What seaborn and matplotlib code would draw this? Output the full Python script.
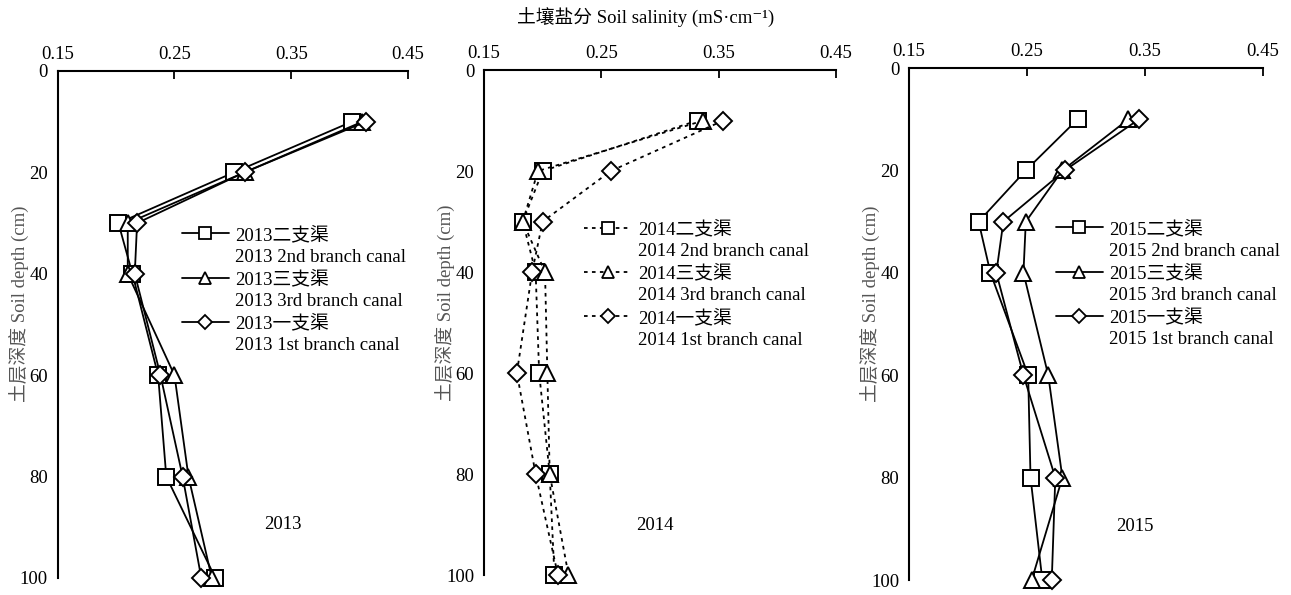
import numpy as np
import pandas as pd
import matplotlib
matplotlib.use("Agg")
import matplotlib.pyplot as plt
from matplotlib.lines import Line2D
import seaborn as sns

# Data
depth = [10, 20, 30, 40, 60, 80, 100]
years = ["2013", "2014", "2015"]
canals_cn = ["二支渠", "三支渠", "一支渠"]
canals_en = ["2nd branch canal", "3rd branch canal", "1st branch canal"]

sal_2013_2nd = [0.402, 0.301, 0.202, 0.214, 0.236, 0.243, 0.285]
sal_2013_3rd = [0.411, 0.310, 0.210, 0.210, 0.250, 0.262, 0.282]
sal_2013_1st = [0.414, 0.310, 0.218, 0.216, 0.238, 0.257, 0.273]

sal_2014_2nd = [0.332, 0.200, 0.183, 0.194, 0.197, 0.206, 0.210]
sal_2014_3rd = [0.337, 0.196, 0.183, 0.202, 0.204, 0.206, 0.222]
sal_2014_1st = [0.354, 0.258, 0.200, 0.191, 0.178, 0.194, 0.213]

sal_2015_2nd = [0.293, 0.249, 0.209, 0.219, 0.251, 0.253, 0.263]
sal_2015_3rd = [0.336, 0.280, 0.249, 0.247, 0.268, 0.280, 0.254]
sal_2015_1st = [0.345, 0.282, 0.230, 0.224, 0.247, 0.274, 0.271]

x_ticks = [0.15, 0.25, 0.35, 0.45]
y_ticks = [0, 20, 40, 60, 80, 100]

values = {
    ("2013", 0): sal_2013_2nd, ("2013", 1): sal_2013_3rd, ("2013", 2): sal_2013_1st,
    ("2014", 0): sal_2014_2nd, ("2014", 1): sal_2014_3rd, ("2014", 2): sal_2014_1st,
    ("2015", 0): sal_2015_2nd, ("2015", 1): sal_2015_3rd, ("2015", 2): sal_2015_1st,
}
rows = []
for (yr, c), vals in values.items():
    for d, v in zip(depth, vals):
        rows.append({"year": yr, "canal": c, "depth": d, "salinity": v})
df = pd.DataFrame(rows)

sns.set_style("white")
plt.rcParams["font.family"] = ["Liberation Serif", "Noto Sans CJK SC", "DejaVu Serif"]
plt.rcParams["axes.unicode_minus"] = False
plt.rcParams["text.color"] = "black"

markers = ["s", "^", "D"]
msizes = [11, 11, 9]
fig = plt.figure(figsize=(12.91, 5.95), dpi=100)

# axes positions (left, bottom, width, height)
positions = [
    (0.0447, 0.0286, 0.2713, 0.8521),
    (0.3749, 0.0336, 0.2727, 0.8487),
    (0.7041, 0.0252, 0.2742, 0.8605),
]
legend_anchor = [(0.355, 0.694), (0.285, 0.702), (0.415, 0.703)]
year_pos = [(0.643, 0.105), (0.486, 0.099), (0.638, 0.104)]

for i, yr in enumerate(years):
    ax = fig.add_axes(positions[i])
    ls = (0, (2.0, 2.4)) if yr == "2014" else "-"
    handles, labels = [], []
    for c in range(3):
        sub = df[(df["year"] == yr) & (df["canal"] == c)]
        sns.lineplot(data=sub, x="salinity", y="depth", sort=False, estimator=None,
                     color="black", linewidth=1.3, linestyle=ls,
                     marker=markers[c], markersize=msizes[c],
                     markerfacecolor="white", markeredgecolor="black",
                     markeredgewidth=1.4, clip_on=False, ax=ax, legend=False)
        handles.append(Line2D([], [], color="black", linewidth=1.3, linestyle=ls,
                              marker=markers[c], markersize=msizes[c] * 0.75,
                              markerfacecolor="white", markeredgecolor="black",
                              markeredgewidth=1.3))
        labels.append(yr + canals_cn[c])
        handles.append(Line2D([], [], linestyle="none"))
        labels.append(yr + " " + canals_en[c])

    ax.set_xlim(0.15, 0.45)
    ax.set_ylim(100, 0)
    ax.set_xticks(x_ticks)
    ax.set_xticklabels([f"{t:.2f}" for t in x_ticks])
    ax.set_yticks(y_ticks)
    ax.xaxis.tick_top()
    ax.tick_params(axis="x", direction="in", length=6, width=1.3,
                   labelsize=13.5, pad=5.5, colors="black")
    ax.tick_params(axis="y", direction="out", length=5, width=1.3,
                   labelsize=13.5, pad=2, colors="black")
    for s in ["right", "bottom"]:
        ax.spines[s].set_visible(False)
    for s in ["left", "top"]:
        ax.spines[s].set_linewidth(1.5)
        ax.spines[s].set_color("black")
    ax.set_xlabel("")
    ax.set_ylabel("土层深度 Soil depth (cm)", fontsize=13.5, color="#555555")
    ax.yaxis.set_label_coords(-0.08, 0.54)

    leg = ax.legend(handles, labels, loc="upper left", bbox_to_anchor=legend_anchor[i],
                    frameon=False, fontsize=13.5, handlelength=2.5, handletextpad=0.35,
                    labelspacing=0.25, borderpad=0, borderaxespad=0, numpoints=1)
    for t in leg.get_texts():
        t.set_color("black")
    ax.text(year_pos[i][0], year_pos[i][1], yr, transform=ax.transAxes,
            ha="center", va="center", fontsize=13.5)

fig.text(0.5, 0.97, "土壤盐分 Soil salinity (mS·cm⁻¹)",
         ha="center", va="center", fontsize=13.5)

fig.savefig("out.png", dpi=100)
